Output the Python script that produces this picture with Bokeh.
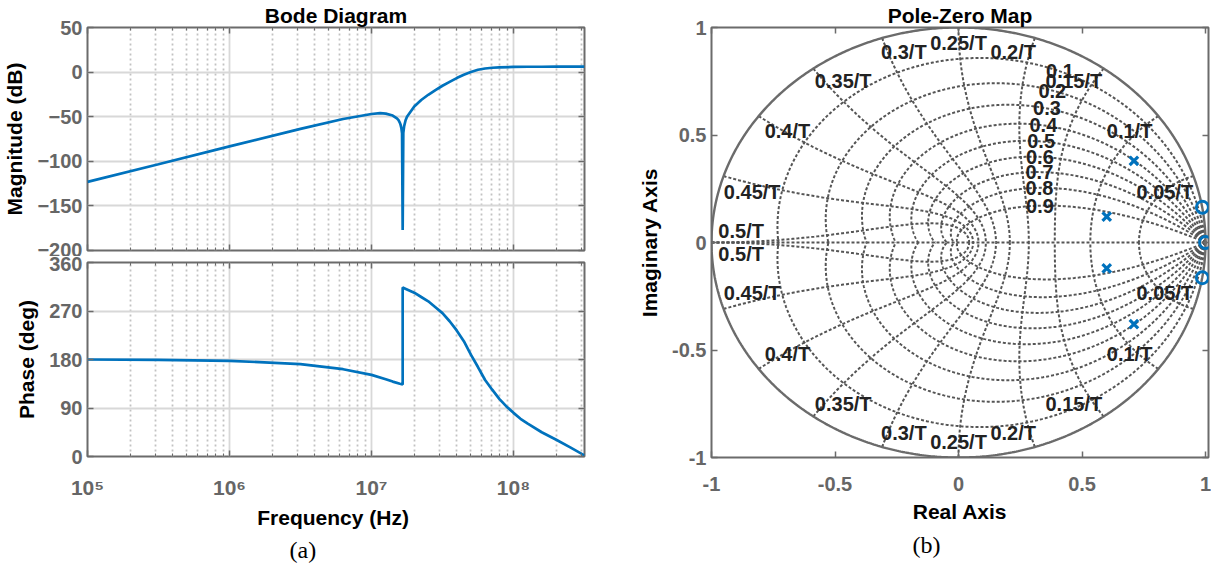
import numpy as np
from bokeh.plotting import figure
from bokeh.models import (Range1d, FixedTicker, LogAxis, LinearAxis, Title,
                          CustomJSTickFormatter)
from bokeh.layouts import row, column
from bokeh.embed import file_html
from bokeh.resources import INLINE
from bokeh.core.properties import value

# ---------------- data ----------------
mag_freq_hz = [1.0e5, 3.16e5, 1.0e6, 3.16e6, 6.31e6, 1.0e7, 1.15e7, 1.26e7, 1.41e7,
               1.51e7, 1.55e7, 1.585e7, 1.603e7, 1.622e7, 1.641e7, 1.658e7, 1.675e7,
               1.698e7, 1.738e7, 1.778e7, 2.0e7, 2.24e7, 2.51e7, 2.82e7, 3.16e7, 3.55e7,
               3.98e7, 4.47e7, 5.01e7, 5.62e7, 6.31e7, 7.08e7, 7.94e7, 1.0e8, 1.26e8,
               1.58e8, 2.0e8, 2.51e8, 3.16e8]
mag_db = [-123.0, -103.3, -83.3, -63.6, -52.6, -47.0, -46.0, -46.6, -48.7,
          -51.9, -53.9, -56.9, -59.1, -62.5, -68.6, -177.0, -68.2,
          -60.5, -54.0, -50.0, -38.5, -31.3, -25.4, -20.1, -15.3, -10.9,
          -6.7, -2.9, 0.2, 2.6, 4.0, 4.9, 5.3, 5.8, 6.0,
          6.0, 6.05, 6.1, 6.1]

phase_freq_hz = [1.0e5, 3.16e5, 1.0e6, 3.16e6, 6.31e6, 1.0e7, 1.26e7, 1.41e7, 1.585e7,
                 1.658e7, 1.658e7, 1.778e7, 2.0e7, 2.24e7, 2.51e7, 2.82e7, 3.16e7,
                 3.55e7, 3.98e7, 4.47e7, 5.01e7, 5.62e7, 6.31e7, 7.08e7, 7.94e7,
                 8.91e7, 1.0e8, 1.12e8, 1.26e8, 1.58e8, 2.0e8, 2.51e8, 3.16e8]
phase_deg = [180.0, 179.3, 177.6, 171.5, 162.0, 151.5, 143.5, 139.0, 135.0,
             133.5, 313.5, 310.0, 304.0, 296.0, 288.0, 277.0, 266.0,
             251.0, 234.0, 214.0, 189.0, 166.0, 142.0, 124.0, 107.0,
             93.0, 81.0, 70.0, 61.0, 45.0, 31.0, 17.0, 2.0]

pole_re = [0.60, 0.60, 0.71, 0.71]
pole_im = [0.12, -0.12, 0.38, -0.38]
zero_re = [1.0, 0.987, 0.987]
zero_im = [0.0, 0.164, -0.164]

mag_ticks = [-200, -150, -100, -50, 0, 50]
phase_ticks = [0, 90, 180, 270, 360]
freq_ticks = [1e5, 1e6, 1e7, 1e8]
pz_ticks = [-1, -0.5, 0, 0.5, 1]

zeta_grid = [0.1, 0.2, 0.3, 0.4, 0.5, 0.6, 0.7, 0.8, 0.9]
wn_grid = [0.05, 0.1, 0.15, 0.2, 0.25, 0.3, 0.35, 0.4, 0.45, 0.5]   # in 1/T (Hz)
wn_labels = ["0.05/T", "0.1/T", "0.15/T", "0.2/T", "0.25/T", "0.3/T",
             "0.35/T", "0.4/T", "0.45/T", "0.5/T"]
zeta_labels = ["0.1", "0.2", "0.3", "0.4", "0.5", "0.6", "0.7", "0.8", "0.9"]

# ---------------- styles ----------------
BLUE = "#0072BD"
FONT = "Liberation Sans"
BOX = "#6b6b6b"
TICKC = "#666666"
BLANK = CustomJSTickFormatter(code="return ' ';")


def style_axis(ax, labels=True):
    ax.axis_line_color = None
    ax.major_tick_in = 6
    ax.major_tick_out = 0
    ax.minor_tick_in = 3
    ax.minor_tick_out = 0
    ax.major_tick_line_color = BOX
    ax.major_tick_line_width = 1.5
    ax.minor_tick_line_color = BOX
    ax.minor_tick_line_width = 1
    ax.major_label_text_font = FONT
    ax.major_label_text_font_style = "bold"
    ax.major_label_text_color = TICKC
    ax.major_label_text_font_size = "20px"
    ax.axis_label_text_font = FONT
    ax.axis_label_text_font_style = "bold"
    ax.axis_label_text_font_size = "21px"
    ax.axis_label_text_color = "#000000"
    if not labels:
        ax.major_label_text_font_size = "1px"
        ax.major_label_text_color = None
        ax.major_label_standoff = 0
        ax.formatter = BLANK


def style_fig(p, title=None):
    p.outline_line_color = BOX
    p.outline_line_width = 2
    p.outline_line_alpha = 1.0
    p.background_fill_color = "white"
    p.border_fill_color = "white"
    if title:
        p.title.text = title
        p.title.align = "center"
        p.title.text_font = FONT
        p.title.text_font_size = "21px"
        p.title.text_font_style = "bold"
        p.title.text_color = "#000000"
        p.title.standoff = 2


def style_bode_grid(p):
    p.xgrid.grid_line_color = "#d8d8d8"
    p.xgrid.grid_line_width = 1.8
    p.xgrid.minor_grid_line_color = "#c2c2c2"
    p.xgrid.minor_grid_line_dash = "2 3"
    p.xgrid.minor_grid_line_width = 1.8
    p.ygrid.grid_line_color = "#d8d8d8"
    p.ygrid.grid_line_width = 1.8


minor_freq = [k * 10.0 ** e for e in range(5, 9) for k in range(2, 10) if k * 10.0 ** e <= 3.17e8]
XR = (1e5, 10 ** 8.5)

# ---------------- magnitude ----------------
p1 = figure(x_axis_type="log", x_range=Range1d(*XR), y_range=Range1d(-200, 50),
            frame_width=497, frame_height=223,
            min_border_left=76, min_border_right=30, min_border_top=26, min_border_bottom=6,
            output_backend="svg", toolbar_location=None)
style_fig(p1, "Bode Diagram")
p1.xaxis.ticker = FixedTicker(ticks=freq_ticks, minor_ticks=minor_freq)
p1.yaxis.ticker = FixedTicker(ticks=mag_ticks)
style_axis(p1.xaxis[0], labels=False)
style_axis(p1.yaxis[0])
p1.yaxis.axis_label = "Magnitude (dB)"
p1.yaxis.axis_label_standoff = 8
top1 = LogAxis(ticker=FixedTicker(ticks=freq_ticks, minor_ticks=minor_freq))
right1 = LinearAxis(ticker=FixedTicker(ticks=mag_ticks))
style_axis(top1, labels=False)
style_axis(right1, labels=False)
p1.add_layout(top1, "above")
p1.add_layout(right1, "right")
style_bode_grid(p1)
p1.line(mag_freq_hz, mag_db, line_color=BLUE, line_width=2.7)

# ---------------- phase ----------------
p2 = figure(x_axis_type="log", x_range=Range1d(*XR), y_range=Range1d(0, 360),
            frame_width=497, frame_height=194,
            min_border_left=76, min_border_right=30, min_border_top=6, min_border_bottom=104,
            output_backend="svg", toolbar_location=None)
style_fig(p2)
p2.xaxis.ticker = FixedTicker(ticks=freq_ticks, minor_ticks=minor_freq)
p2.yaxis.ticker = FixedTicker(ticks=phase_ticks)
style_axis(p2.xaxis[0])
style_axis(p2.yaxis[0])
p2.xaxis.formatter = CustomJSTickFormatter(
    code="const s={5:'\u2075',6:'\u2076',7:'\u2077',8:'\u2078'};"
         "return '10' + s[Math.round(Math.log10(tick))];")
p2.xaxis.major_label_text_font_size = "21px"
p2.xaxis.major_label_standoff = 19
p2.xaxis.axis_label = "Frequency  (Hz)"
p2.xaxis.axis_label_standoff = 4
p2.yaxis.axis_label = "Phase (deg)"
p2.yaxis.axis_label_standoff = 8
top2 = LogAxis(ticker=FixedTicker(ticks=freq_ticks, minor_ticks=minor_freq))
right2 = LinearAxis(ticker=FixedTicker(ticks=phase_ticks))
style_axis(top2, labels=False)
style_axis(right2, labels=False)
p2.add_layout(top2, "above")
p2.add_layout(right2, "right")
style_bode_grid(p2)
p2.line(phase_freq_hz, phase_deg, line_color=BLUE, line_width=2.7)
p2.add_layout(Title(text="(a)", align="left", offset=202, text_font="Liberation Serif",
                    text_font_size="24px", text_font_style="normal", text_color="#000000",
                    standoff=6), "below")

# ---------------- pole-zero map ----------------
p3 = figure(x_range=Range1d(-1, 1.012), y_range=Range1d(-1, 1),
            frame_width=497, frame_height=430,
            min_border_left=97, min_border_right=3, min_border_top=26, min_border_bottom=103,
            output_backend="svg", toolbar_location=None)
style_fig(p3, "Pole-Zero Map")
fmt = CustomJSTickFormatter(code="return String(tick);")
p3.xaxis.ticker = FixedTicker(ticks=pz_ticks)
p3.yaxis.ticker = FixedTicker(ticks=pz_ticks)
style_axis(p3.xaxis[0])
style_axis(p3.yaxis[0])
p3.xaxis.formatter = fmt
p3.yaxis.formatter = fmt
p3.xaxis.major_label_standoff = 19
p3.xaxis.axis_label = "Real Axis"
p3.xaxis.axis_label_standoff = 6
p3.yaxis.axis_label = "Imaginary Axis"
p3.yaxis.axis_label_standoff = 8
top3 = LinearAxis(ticker=FixedTicker(ticks=pz_ticks))
right3 = LinearAxis(ticker=FixedTicker(ticks=pz_ticks))
style_axis(top3, labels=False)
style_axis(right3, labels=False)
p3.add_layout(top3, "above")
p3.add_layout(right3, "right")
p3.xgrid.grid_line_color = None
p3.ygrid.grid_line_color = None

GRID = "#555555"
# constant damping curves
zx, zy = [], []
for zt in zeta_grid:
    s = np.sqrt(1 - zt * zt)
    th = np.linspace(0, np.pi / s, 400)
    zz = np.exp(th * (-zt + 1j * s))
    zx += [zz.real, zz.real]
    zy += [zz.imag, -zz.imag]
p3.multi_line(zx, zy, line_color=GRID, line_width=2.0, line_dash="3 2")
# constant natural-frequency curves
wx, wy = [], []
zeta_s = np.linspace(0, 1, 300)
for f in wn_grid:
    a = 2 * np.pi * f
    zz = np.exp(a * (-zeta_s + 1j * np.sqrt(1 - zeta_s ** 2)))
    wx += [zz.real, zz.real]
    wy += [zz.imag, -zz.imag]
p3.multi_line(wx, wy, line_color=GRID, line_width=2.0, line_dash="3 2")
p3.line([-1, 1], [0, 0], line_color=GRID, line_width=2.0, line_dash="3 2")
# unit circle
tt = np.linspace(0, 2 * np.pi, 721)
p3.line(np.cos(tt), np.sin(tt), line_color="#6b6b6b", line_width=2.4)

# grid labels
lx, ly, lt = [], [], []
for f, lab in zip(wn_grid, wn_labels):
    a = 2 * np.pi * f
    rx = 0.88 - 0.2 * np.sin(a) ** 4
    ry = 0.93 - 0.25 * np.cos(a) ** 8
    x = rx * np.cos(a)
    y = ry * np.sin(a)
    if abs(np.sin(a)) < 1e-6:
        y = 0.055
    lx += [x, x]
    ly += [y, -y]
    lt += [lab, lab]
for zt, lab in zip(zeta_grid, zeta_labels):
    s = np.sqrt(1 - zt * zt)
    zz = np.exp(1.1 * (-zt + 1j * s))
    lx.append(zz.real)
    ly.append(zz.imag)
    lt.append(lab)
p3.text(lx, ly, text=lt, text_font=value(FONT), text_font_style="bold",
        text_font_size="20px", text_color="#222222", text_align="center",
        text_baseline="middle")

p3.scatter(pole_re, pole_im, marker="x", size=12, line_color=BLUE, line_width=3.2)
p3.scatter(zero_re, zero_im, marker="circle", size=12, line_color=BLUE, line_width=2.8,
           fill_color=None)
p3.add_layout(Title(text="(b)", align="left", offset=201, text_font="Liberation Serif",
                    text_font_size="24px", text_font_style="normal", text_color="#000000",
                    standoff=9), "below")

layout = row(column(p1, p2), p3)
open("out.html", "w").write(file_html(layout, INLINE))
